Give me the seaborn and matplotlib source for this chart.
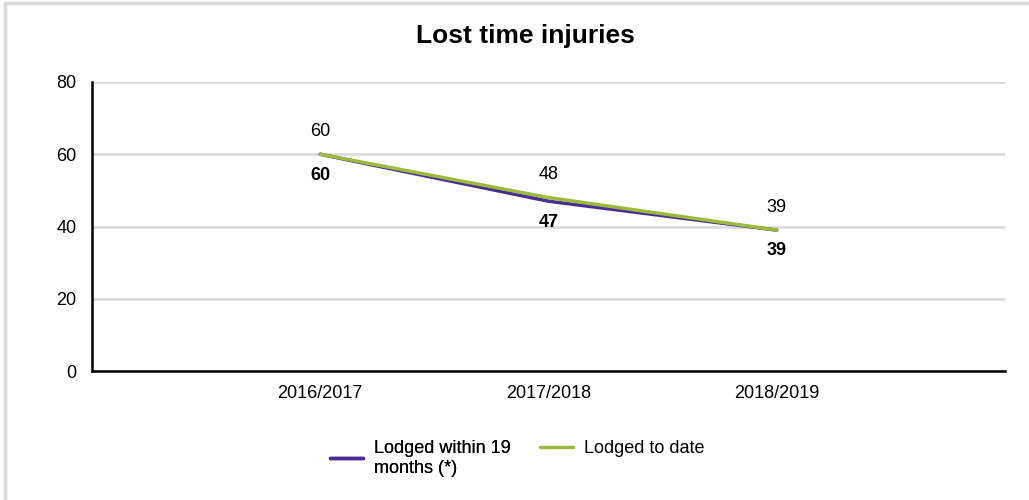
import matplotlib
matplotlib.use("Agg")
import matplotlib.pyplot as plt
from matplotlib.lines import Line2D
import seaborn as sns
import pandas as pd

categories = ["2016/2017", "2017/2018", "2018/2019"]
within_19_months = [60, 47, 39]
to_date = [60, 48, 39]
series_names = ["Lodged within 19\nmonths (*)", "Lodged to date"]
colors = ["#4B2C91", "#9BBB3B"]

sns.set_style("white")
plt.rcParams["font.family"] = ["Liberation Sans", "DejaVu Sans"]
plt.rcParams["text.color"] = "black"

df = pd.DataFrame({
    "x": list(range(len(categories))) * 2,
    "value": within_19_months + to_date,
    "series": [series_names[0]] * len(categories) + [series_names[1]] * len(categories),
})

fig = plt.figure(figsize=(10.29, 5.0), dpi=100)
ax = fig.add_axes([92 / 1029, 1 - 371 / 500, (1005 - 92) / 1029, (371 - 82) / 500])

sns.lineplot(data=df, x="x", y="value", hue="series", palette=colors,
             hue_order=series_names, linewidth=2.5, ax=ax, legend=False)

# data labels
for i, v in enumerate(to_date):
    ax.annotate(str(v), (i, v), xytext=(0, 16.5), textcoords="offset points",
                ha="center", va="center", fontsize=13, color="black")
for i, v in enumerate(within_19_months):
    ax.annotate(str(v), (i, v), xytext=(0, -15), textcoords="offset points",
                ha="center", va="center", fontsize=13, fontweight="bold", color="black")

ax.set_xlim(-1, 3)
ax.set_ylim(0, 80)
ax.set_yticks([0, 20, 40, 60, 80])
ax.set_xticks([-1, 0, 1, 2, 3])
ax.set_xticklabels([""] + categories + [""])
ax.set_xlabel("")
ax.set_ylabel("")

ax.yaxis.grid(True, color="#d9d9d9", linewidth=1.8)
ax.set_axisbelow(True)
for s in ["top", "right"]:
    ax.spines[s].set_visible(False)
for s in ["left", "bottom"]:
    ax.spines[s].set_color("black")
    ax.spines[s].set_linewidth(1.8)
    ax.spines[s].set_zorder(3)

ax.tick_params(axis="y", length=6, width=1, color="#808080", pad=5, labelsize=13, labelcolor="black")
ax.tick_params(axis="x", length=4, width=1, color="#808080", pad=6, labelsize=13, labelcolor="black")

fig.suptitle("Lost time injuries", x=525 / 1029, y=1 - 36 / 500, va="center",
             fontsize=19, fontweight="bold", color="black")

# two legends so that the single-line entry aligns with the first line of the other
leg_kw = dict(loc="upper left", frameon=False, fontsize=13, handlelength=1.8,
              handletextpad=0.65, borderpad=0, borderaxespad=0, labelspacing=0.3)
leg1 = fig.legend([Line2D([], [], color=colors[0], linewidth=2.5)], [series_names[0]],
                  bbox_to_anchor=(330 / 1029, 1 - 440 / 500), **leg_kw)
fig.add_artist(leg1)
fig.legend([Line2D([], [], color=colors[1], linewidth=2.5)], [series_names[1]],
           bbox_to_anchor=(540 / 1029, 1 - 440 / 500), **leg_kw)

# light grey border (top and left)
fig.add_artist(Line2D([5 / 1029, 1], [1 - 3 / 500, 1 - 3 / 500], transform=fig.transFigure,
                      color="#dcdcdc", linewidth=2.5))
fig.add_artist(Line2D([5 / 1029, 5 / 1029], [0, 1 - 3 / 500], transform=fig.transFigure,
                      color="#dcdcdc", linewidth=2.5))

fig.savefig("out.png", dpi=100)
